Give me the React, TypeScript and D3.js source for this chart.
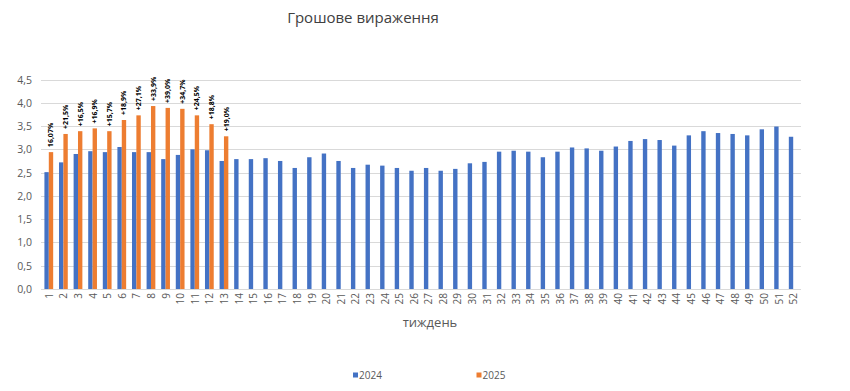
import React from "react";
import * as d3 from "d3";

const weeks = d3.range(1, 53).map(String);

const values2024 = [
  2.51, 2.72, 2.9, 2.96, 2.94, 3.05, 2.94, 2.94, 2.79, 2.88, 3.0, 2.98, 2.75,
  2.79, 2.79, 2.81, 2.75, 2.6, 2.83, 2.91, 2.75, 2.6, 2.67, 2.65, 2.6, 2.54,
  2.6, 2.54, 2.58, 2.7, 2.73, 2.95, 2.97, 2.95, 2.83, 2.95, 3.04, 3.02, 2.97,
  3.06, 3.18, 3.22, 3.2, 3.08, 3.3, 3.39, 3.35, 3.33, 3.3, 3.43, 3.49, 3.27,
];

const values2025 = [
  2.94, 3.33, 3.39, 3.45, 3.39, 3.63, 3.73, 3.93, 3.89, 3.87, 3.73, 3.54, 3.28,
];

const labels2025 = [
  "16,07%", "+21,5%", "+16,5%", "+16,9%", "+15,7%", "+18,9%", "+27,1%",
  "+33,9%", "+39,0%", "+34,7%", "+24,5%", "+18,8%", "+19,0%",
];

const yTicks = [0, 0.5, 1, 1.5, 2, 2.5, 3, 3.5, 4, 4.5];

const seriesNames = ["2024", "2025"];
const colors = { "2024": "#4472C4", "2025": "#ED7D31" };

function App() {
  const width = 850;
  const height = 391;
  const font = "'Open Sans', 'Noto Sans', sans-serif";

  const x = d3
    .scaleBand()
    .domain(weeks)
    .range([41.5, 800.5])
    .paddingInner(0.4)
    .paddingOuter(0.2);

  const xs = d3.scaleBand().domain(seriesNames).range([0, x.bandwidth()]);

  const y = d3.scaleLinear().domain([0, 4.5]).range([289, 79.5]);

  const fmt = (v: number) => d3.format(".1f")(v).replace(".", ",");

  return (
    <div style={{ position: "absolute", left: 0, top: 0 }}>
      <svg width={width} height={height} style={{ display: "block" }}>
        <rect width={width} height={height} fill="#fff" />
        <text
          x={363}
          y={23}
          textAnchor="middle"
          fontFamily={font}
          fontSize={15}
          fill="#404040"
        >
          Грошове вираження
        </text>

        {/* gridlines + y labels */}
        {yTicks.map((t) => (
          <g key={t}>
            <line
              x1={41}
              x2={801}
              y1={Math.round(y(t)) + 0.5}
              y2={Math.round(y(t)) + 0.5}
              stroke="#d9d9d9"
            />
            <text
              x={32}
              y={y(t)}
              textAnchor="end"
              dominantBaseline="central"
              fontFamily={font}
              fontSize={10.5}
              fill="#595959"
            >
              {fmt(t)}
            </text>
          </g>
        ))}

        {/* bars */}
        {values2024.map((v, i) => (
          <rect
            key={"a" + i}
            x={x(weeks[i])! + xs("2024")!}
            y={y(v)}
            width={xs.bandwidth()}
            height={y(0) - y(v)}
            fill={colors["2024"]}
          />
        ))}
        {values2025.map((v, i) => (
          <rect
            key={"b" + i}
            x={x(weeks[i])! + xs("2025")!}
            y={y(v)}
            width={xs.bandwidth()}
            height={y(0) - y(v)}
            fill={colors["2025"]}
          />
        ))}

        {/* data labels */}
        {labels2025.map((l, i) => {
          const cx = x(weeks[i])! + xs("2025")! + xs.bandwidth() / 2;
          return (
            <text
              key={"l" + i}
              transform={`translate(${cx}, ${y(values2025[i]) - 5}) rotate(-90)`}
              dominantBaseline="central"
              fontFamily={font}
              fontSize={7}
              fontWeight="bold"
              fill="#000"
            >
              {l}
            </text>
          );
        })}

        {/* x tick labels */}
        {weeks.map((w) => (
          <text
            key={"x" + w}
            transform={`translate(${x(w)! + x.bandwidth() / 2}, 293) rotate(-90)`}
            textAnchor="end"
            dominantBaseline="central"
            fontFamily={font}
            fontSize={10}
            fill="#595959"
          >
            {w}
          </text>
        ))}

        <text
          x={430}
          y={327}
          textAnchor="middle"
          fontFamily={font}
          fontSize={13}
          fill="#595959"
        >
          тиждень
        </text>

        {/* legend */}
        {seriesNames.map((s, i) => (
          <g key={s} transform={`translate(${353 + i * 123.5}, 375)`}>
            <rect x={0} y={-2.5} width={5} height={5} fill={colors[s]} />
            <text
              x={6}
              y={0}
              dominantBaseline="central"
              fontFamily={font}
              fontSize={10}
              fill="#595959"
            >
              {s}
            </text>
          </g>
        ))}
      </svg>
    </div>
  );
}

export default App;
